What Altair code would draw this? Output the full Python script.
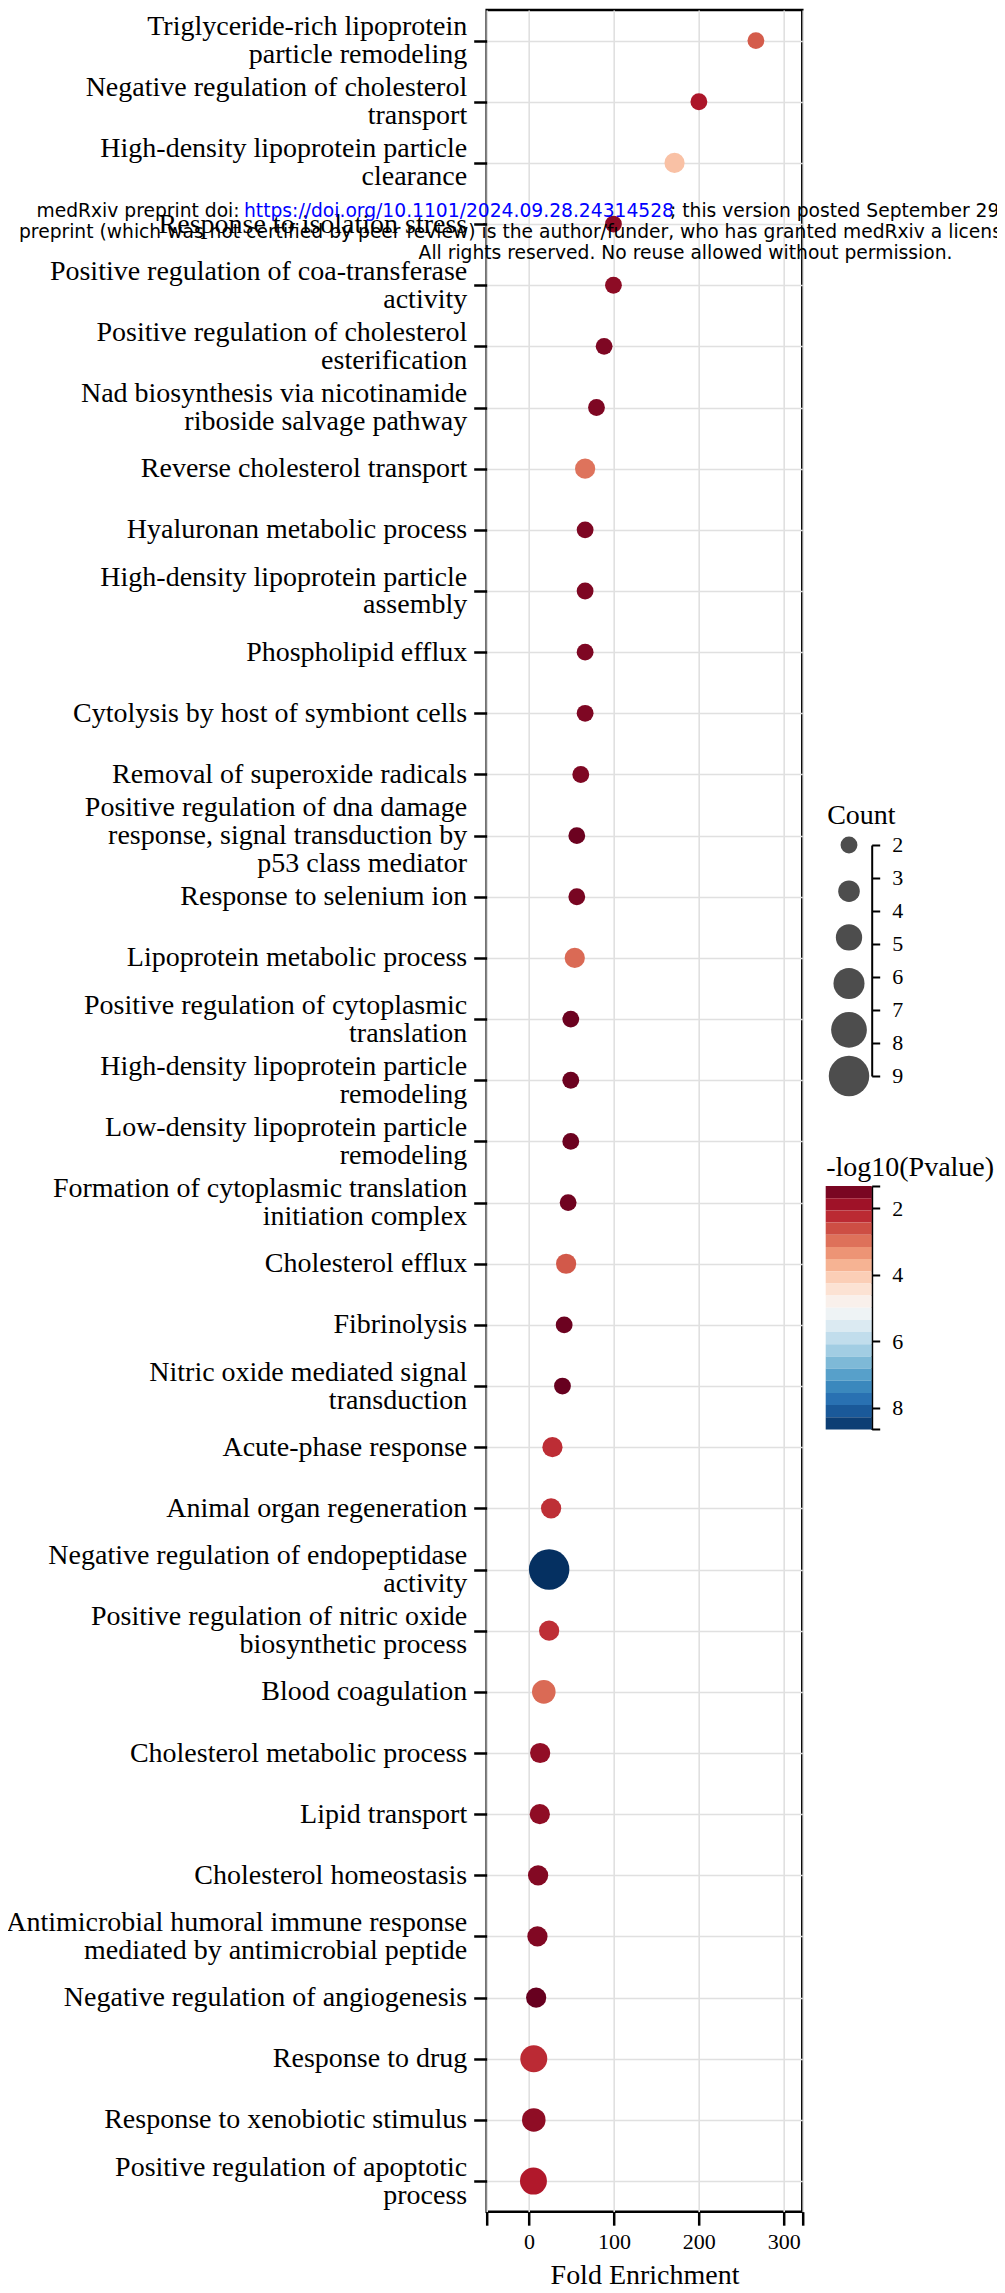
import altair as alt
import pandas as pd

# ---------------- data ----------------
terms = [
    "Triglyceride-rich lipoprotein\nparticle remodeling",
    "Negative regulation of cholesterol\ntransport",
    "High-density lipoprotein particle\nclearance",
    "Response to isolation stress",
    "Positive regulation of coa-transferase\nactivity",
    "Positive regulation of cholesterol\nesterification",
    "Nad biosynthesis via nicotinamide\nriboside salvage pathway",
    "Reverse cholesterol transport",
    "Hyaluronan metabolic process",
    "High-density lipoprotein particle\nassembly",
    "Phospholipid efflux",
    "Cytolysis by host of symbiont cells",
    "Removal of superoxide radicals",
    "Positive regulation of dna damage\nresponse, signal transduction by\np53 class mediator",
    "Response to selenium ion",
    "Lipoprotein metabolic process",
    "Positive regulation of cytoplasmic\ntranslation",
    "High-density lipoprotein particle\nremodeling",
    "Low-density lipoprotein particle\nremodeling",
    "Formation of cytoplasmic translation\ninitiation complex",
    "Cholesterol efflux",
    "Fibrinolysis",
    "Nitric oxide mediated signal\ntransduction",
    "Acute-phase response",
    "Animal organ regeneration",
    "Negative regulation of endopeptidase\nactivity",
    "Positive regulation of nitric oxide\nbiosynthetic process",
    "Blood coagulation",
    "Cholesterol metabolic process",
    "Lipid transport",
    "Cholesterol homeostasis",
    "Antimicrobial humoral immune response\nmediated by antimicrobial peptide",
    "Negative regulation of angiogenesis",
    "Response to drug",
    "Response to xenobiotic stimulus",
    "Positive regulation of apoptotic\nprocess",
]

fold_enrichment = [267.3, 200.1, 171.4, 99.4, 99.4, 88.4, 79.4, 66.0, 66.0, 66.0,
                   66.0, 66.0, 60.9, 56.2, 56.2, 53.8, 49.1, 49.1, 49.1, 46.0,
                   43.6, 41.3, 39.3, 27.5, 25.9, 23.6, 23.6, 17.3, 13.0, 12.6,
                   10.6, 9.8, 8.3, 5.5, 5.5, 5.1]

counts = [2, 2, 3, 2, 2, 2, 2, 3, 2, 2,
          2, 2, 2, 2, 2, 3, 2, 2, 2, 2,
          3, 2, 2, 3, 3, 9, 3, 4, 3, 3,
          3, 3, 3, 5, 4, 5]

neg_log10_p = [2.75, 2.0, 3.9, 1.7, 1.7, 1.55, 1.55, 3.0, 1.55, 1.55,
               1.55, 1.55, 1.55, 1.38, 1.5, 2.9, 1.38, 1.38, 1.38, 1.42,
               2.72, 1.38, 1.33, 2.28, 2.3, 8.65, 2.3, 2.9, 1.75, 1.72,
               1.6, 1.58, 1.33, 2.25, 1.72, 2.05]

x_tick_values = [-50, 0, 100, 200, 300, 322]
count_legend_keys = [2, 3.4, 4.8, 6.2, 7.6, 9]
count_ticks = [2, 3, 4, 5, 6, 7, 8, 9]
pval_ticks = [1.33, 2, 4, 6, 8, 8.65]
pval_domain = [1.33, 8.65]
n_colorbar_bins = 20
rdbu_colors = ["#67001f", "#b2182b", "#d6604d", "#f4a582", "#fddbc7", "#f7f7f7",
               "#d1e5f0", "#92c5de", "#4393c3", "#2166ac", "#053061"]

df = pd.DataFrame({"Term": terms, "FE": fold_enrichment,
                   "Count": counts, "P": neg_log10_p})

# ---------------- layout constants ----------------
W = 315.6
H = 2201.7
PAD_L = 478.7
PAD_T = 2
TOTAL_W = 989
PAD_R = TOTAL_W - PAD_L - W
PAD_B = 78
SERIF = "Liberation Serif"
GRID = "#e0e0e0"
LEG_OFFSET = 69.4

lo, hi = pval_domain
n_stops = len(rdbu_colors)
color_domain = [lo + (hi - lo) * k / (n_stops - 1) for k in range(n_stops)]

size_scale = alt.Scale(type="pow", exponent=2, domain=[0, 11.98], range=[0, 1640])
color_scale = alt.Scale(domain=color_domain, range=rdbu_colors, interpolate="rgb")

line_count = "length(split(datum.value, '\\n'))"
label_offset = {
    "condition": [
        {"test": f"{line_count} == 3", "value": -28},
        {"test": f"{line_count} == 2", "value": -14},
    ],
    "value": 0,
}

main = alt.Chart(df).transform_calculate(
    sz="datum.Count + 2.98"
).mark_circle(opacity=1).encode(
    x=alt.X("FE:Q",
            scale=alt.Scale(domain=[-50, 322], nice=False, zero=False),
            axis=alt.Axis(values=x_tick_values,
                          labelExpr="datum.value % 100 == 0 ? datum.label : ''",
                          title="Fold Enrichment", grid=True, gridColor=GRID, gridWidth=1.6,
                          domain=False, tickColor="black", tickWidth=2.5, tickSize=13.5,
                          labelFont=SERIF, labelFontSize=22, labelColor="black",
                          labelPadding=6, labelOverlap=False, labelFlush=False,
                          titleFont=SERIF, titleFontSize=28, titleFontWeight="normal",
                          titleColor="black", titleBaseline="alphabetic",
                          titleAlign="center", titleX=W / 2, titleY=71.6)),
    y=alt.Y("Term:N", sort=terms,
            scale=alt.Scale(type="point", padding=0.5),
            axis=alt.Axis(title=None, orient="left",
                          labelExpr="split(datum.label, '\\n')",
                          labelOffset=label_offset,
                          labelFont=SERIF, labelFontSize=28, labelLineHeight=28,
                          labelColor="black", labelPadding=7, labelLimit=800,
                          labelOverlap=False,
                          tickColor="black", tickWidth=2.5, tickSize=13,
                          domain=False, grid=True, gridColor=GRID, gridWidth=1.6)),
    size=alt.Size("sz:Q", scale=size_scale, legend=None),
    color=alt.Color("P:Q", scale=color_scale, legend=None),
)

# ---------------- size legend (Count) ----------------
size_leg = alt.Chart(pd.DataFrame({"v": count_legend_keys})).transform_calculate(
    sz="datum.v + 2.98"
).mark_circle(opacity=1, color="#4d4d4d").encode(
    x=alt.value(362.3),
    y=alt.Y("v:Q",
            scale=alt.Scale(domain=[2, 9], range=[835, 1066], nice=False, zero=False),
            axis=alt.Axis(orient="right", offset=LEG_OFFSET, values=count_ticks,
                          grid=False, domainColor="black", domainWidth=2,
                          tickColor="black", tickWidth=2, tickSize=8,
                          labelFont=SERIF, labelFontSize=22, labelColor="black",
                          labelPadding=12, labelOverlap=False, labelFlush=False,
                          title="Count", titleAngle=0, titleX=-45, titleY=813.3,
                          titleAlign="left", titleBaseline="alphabetic",
                          titleFont=SERIF, titleFontSize=28, titleFontWeight="normal",
                          titleColor="black")),
    size=alt.Size("sz:Q", scale=size_scale, legend=None),
)

# ---------------- colour bar (-log10(Pvalue)) ----------------
step = (hi - lo) / n_colorbar_bins
cbar = alt.Chart(alt.sequence(0, n_colorbar_bins, as_="i")).transform_calculate(
    v0=f"{lo} + datum.i * {step}",
    v1=f"{lo} + (datum.i + 1) * {step}",
    vc=f"{lo} + (datum.i + 0.5) * {step}",
).mark_rect().encode(
    x=alt.value(339),
    x2=alt.value(385),
    y=alt.Y("v0:Q",
            scale=alt.Scale(domain=pval_domain, range=[1176.1, 1419.4], nice=False, zero=False),
            axis=alt.Axis(orient="right", offset=LEG_OFFSET, values=pval_ticks,
                          labelExpr="datum.value % 2 == 0 ? datum.label : ''",
                          grid=False, domainColor="black", domainWidth=2,
                          tickColor="black", tickWidth=2, tickSize=8,
                          labelFont=SERIF, labelFontSize=22, labelColor="black",
                          labelPadding=12, labelOverlap=False, labelFlush=False,
                          title="-log10(Pvalue)", titleAngle=0, titleX=-46, titleY=1166,
                          titleAlign="left", titleBaseline="alphabetic",
                          titleFont=SERIF, titleFontSize=28, titleFontWeight="normal",
                          titleColor="black")),
    y2="v1:Q",
    color=alt.Color("vc:Q", scale=color_scale, legend=None),
)

# ---------------- preprint watermark overlay ----------------
def wm(text, x, y, color="black"):
    return alt.Chart(alt.Data(values=[{}])).mark_text(
        text=text, align="left", baseline="alphabetic",
        font="DejaVu Sans", fontSize=18.7, color=color
    ).encode(x=alt.value(x), y=alt.value(y))

marks = [
    wm("medRxiv preprint doi: ", 36.5 - 486.7, 206.7),
    wm("https://doi.org/10.1101/2024.09.28.24314528", 244 - 486.7, 206.7, "#0000ff"),
    wm("; this version posted September 29, 2024.", 670 - 486.7, 206.7),
    wm("preprint (which was not certified by peer review) is the author/funder, who has granted medRxiv a license",
       19 - 486.7, 228.2),
    wm("All rights reserved. No reuse allowed without permission.", 418.6 - 486.7, 249.5),
]

chart = alt.layer(main, size_leg, cbar, *marks).resolve_scale(
    y="independent"
).properties(
    width=W, height=H,
    autosize=alt.AutoSizeParams(type="none"),
    padding={"left": PAD_L, "top": PAD_T, "right": PAD_R, "bottom": PAD_B},
).configure_axis(
    labelFont=SERIF, labelFontSize=22, labelColor="black",
    titleFont=SERIF, titleColor="black"
).configure_view(stroke="black", strokeWidth=2.5)

chart.save("out.html", embed_options={"renderer": "svg", "actions": False})
